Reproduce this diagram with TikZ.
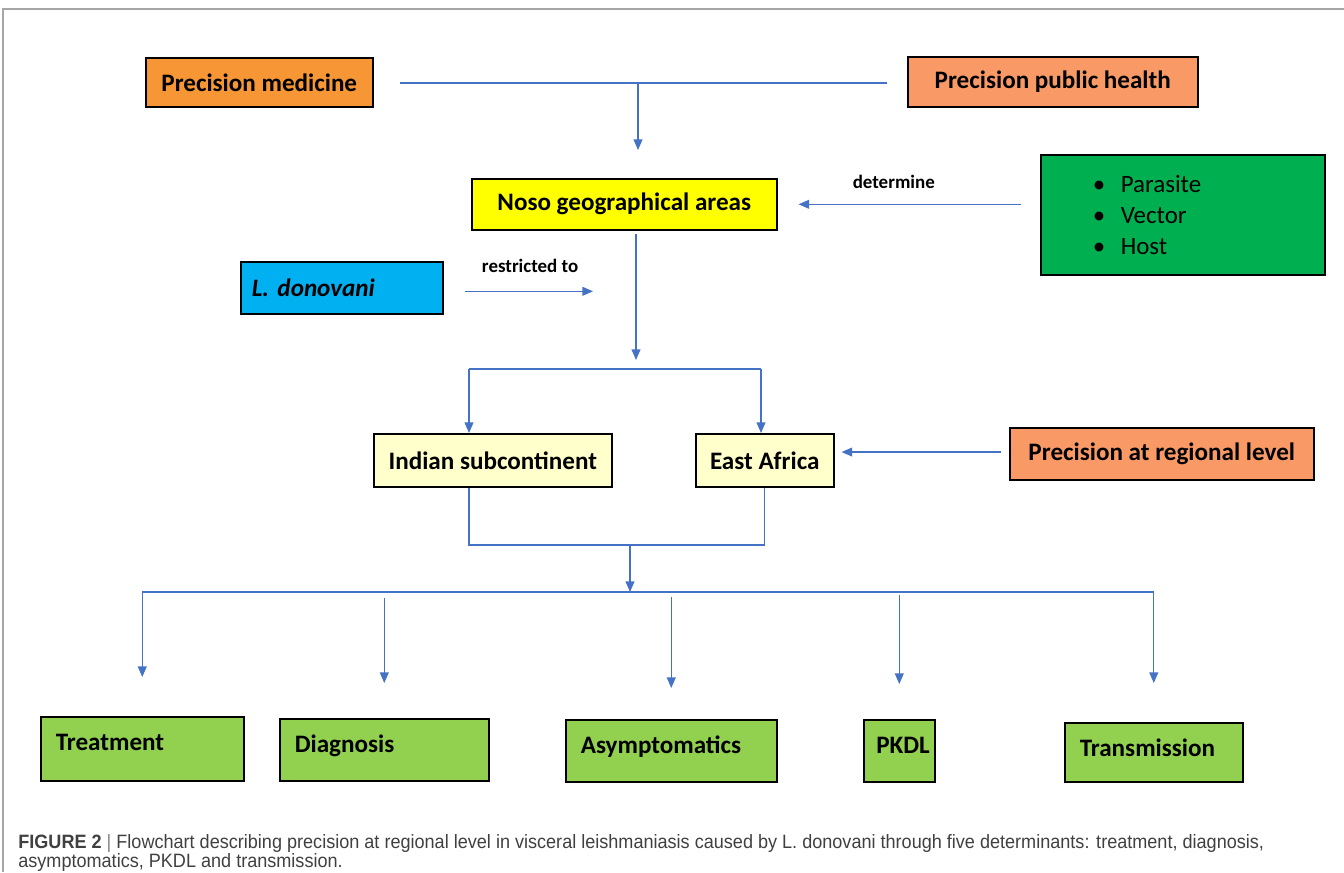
\documentclass[tikz,border=0pt]{standalone}
\usepackage{fontspec}
\setmainfont{Carlito}
\newfontfamily\capfont[FakeStretch=0.935]{Liberation Sans}
\usetikzlibrary{arrows.meta}

\definecolor{linkblue}{RGB}{68,114,196}
\definecolor{medorange}{RGB}{247,150,52}
\definecolor{salmon}{RGB}{249,153,102}
\definecolor{nosoyellow}{RGB}{255,255,0}
\definecolor{listgreen}{RGB}{0,176,80}
\definecolor{donblue}{RGB}{0,176,240}
\definecolor{paleyellow}{RGB}{255,255,204}
\definecolor{leafgreen}{RGB}{146,208,80}
\definecolor{captext}{RGB}{64,64,64}

\begin{document}
\begin{tikzpicture}[x=0.02cm,y=-0.02cm,
    box/.style={draw=black, line width=0.9pt, anchor=north west, font=\fontsize{14.3}{17}\selectfont\bfseries},
    link/.style={linkblue, line width=0.7pt},
    arrow/.style={link, -{Triangle[width=5pt,length=6pt]}},
    leafbox/.style={box, fill=leafgreen, align=left, inner xsep=0.3cm, inner ysep=0.1cm, text height=0.58cm},
    tag/.style={text=black, font=\fontsize{10.8}{13}\selectfont\bfseries},
    caption/.style={anchor=base west, inner sep=0pt, text=captext, font=\capfont\fontsize{11}{13}\selectfont}]
        \useasboundingbox (0,0) rectangle (1344,872);
        \draw[gray!70, line width=0.8pt] (3,872) -- (3,9) -- (1344,9);

        % top row
        \node[box, fill=medorange, minimum width=4.54cm, minimum height=0.98cm] (pm) at (145,57) {Precision medicine};
        \node[box, fill=salmon, minimum width=5.8cm, minimum height=1cm] (pph) at (907,56) {Precision public health};
        \coordinate (top join) at (638,83);
        \draw[link, shorten <=0.52cm, shorten >=0.4cm] (pm.east |- top join) -- (pph.west |- top join);

        % areas
        \node[box, fill=nosoyellow, minimum width=6.1cm, minimum height=1.02cm] (noso) at (471,178) {Noso geographical areas};
        \draw[arrow, shorten >=0.56cm] (top join) -- (top join |- noso.north);
        \node[box, fill=listgreen, font=\fontsize{14.2}{17.6}\selectfont, minimum height=2.4cm, text width=3.6cm, inner xsep=1.04cm, align=left] (hosts) at (1040,154)
            {\makebox[0.56cm][l]{\textbullet}Parasite\\ \makebox[0.56cm][l]{\textbullet}Vector\\ \makebox[0.56cm][l]{\textbullet}Host};
        \draw[arrow, shorten <=0.38cm, shorten >=0.42cm] (hosts.west |- noso.east) -- (noso.east)
            node[tag, pos=0.557, above=5pt] {determine};

        % species
        \node[box, fill=donblue, minimum height=1.04cm, text width=3.6cm, inner xsep=0.22cm, align=left, font=\fontsize{14.3}{17}\selectfont\bfseries\itshape] (donovani) at (240,261) {L.\ donovani};
        \coordinate (split) at (636,369);
        \draw[arrow, shorten <=0.42cm, shorten >=0.86cm] ([yshift=-2pt]donovani.east) -- ([yshift=-2pt]donovani.east -| split)
            node[tag, pos=0.45, above=7pt] {restricted to};
        \draw[arrow, shorten <=0.06cm, shorten >=0.18cm] (noso.south -| split) -- (split);

        % regions
        \node[box, fill=paleyellow, minimum width=4.76cm, minimum height=1.06cm] (indian) at (373,433) {Indian subcontinent};
        \node[box, fill=paleyellow, minimum width=2.76cm, minimum height=1.06cm] (east) at (695,433) {East Africa};
        \node[box, fill=salmon, minimum width=6.08cm, minimum height=1.04cm] (regional) at (1009,427) {Precision at regional level};
        \coordinate (bar left) at (469,369);
        \coordinate (bar right) at (761,369);
        \draw[link] (bar left) -- (bar right);
        \draw[arrow] (bar left) -- (bar left |- indian.north);
        \draw[arrow] (bar right) -- (bar right |- east.north);
        \draw[arrow, shorten <=0.16cm, shorten >=0.14cm] ([yshift=1pt]regional.west) -- ([yshift=1pt]regional.west -| east.east);

        % merge
        \coordinate (merge) at (630,545);
        \coordinate (fan) at (630,592);
        \draw[link] (indian.south -| bar left) |- (merge);
        \draw[link] (east.south) |- (merge);
        \draw[arrow] (merge) -- (fan);

        % determinants
        \node[leafbox, text width=3.46cm, text depth=0.5cm] (treat) at (40,716) {Treatment};
        \node[leafbox, text width=3.58cm, text depth=0.46cm] (diag) at (279,718) {Diagnosis};
        \node[leafbox, text width=3.62cm, text depth=0.46cm] (asym) at (565,719) {Asymptomatics};
        \node[leafbox, inner xsep=0.25cm, text width=0.92cm, text depth=0.46cm] (pkdl) at (863,719) {PKDL};
        \node[leafbox, text width=2.96cm, text depth=0.4cm] (trans) at (1064,722) {Transmission};
        \draw[link] (fan -| treat.north) -- (fan -| trans.north);
        \foreach \leaf/\gapa/\gapb in {treat/0/0.78, diag/0.12/0.7, asym/0.1/0.62, pkdl/0.06/0.7, trans/0/0.78}
            \draw[arrow, shorten <=\gapa cm, shorten >=\gapb cm] (fan -| \leaf.north) -- (\leaf.north);

        % caption
        \node[caption] (cap1) at (18,848) {\textbf{FIGURE 2} {\color{gray}|} Flowchart describing precision at regional level in visceral leishmaniasis caused by L. donovani through five determinants: treatment, diagnosis,};
        \node[caption] (cap2) at (18,867) {asymptomatics, PKDL and transmission.};
    \end{tikzpicture}
\end{document}
